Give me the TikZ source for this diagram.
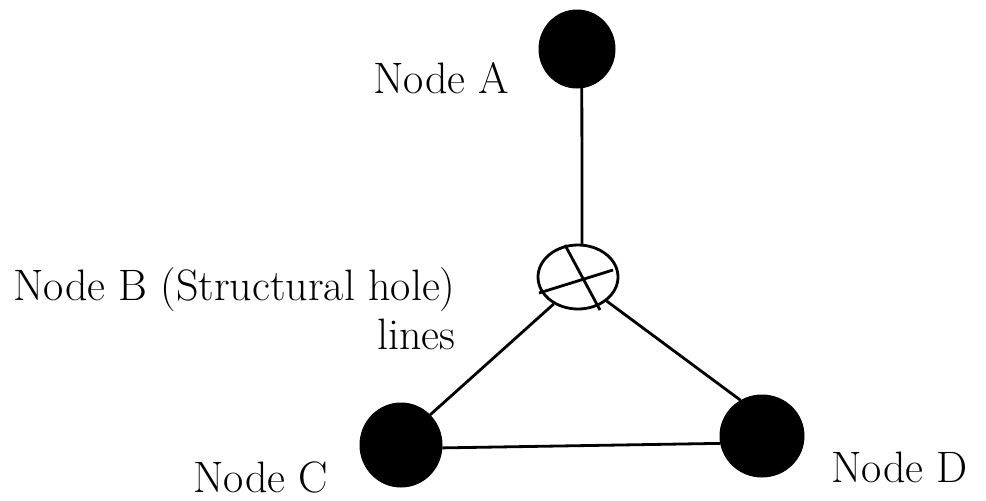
\documentclass[tikz,border=0pt]{standalone}
\usetikzlibrary{shapes.geometric,calc}
\begin{document}
\begin{tikzpicture}[x=1pt,y=-1pt,
  solid node/.style={ellipse,fill=black,draw=black,line width=1pt,inner sep=0pt},
  hole node/.style={ellipse,draw=black,line width=2.8pt,fill=white,inner sep=0pt},
  link/.style={line width=2.8pt},
  label text/.style={anchor=base west,inner sep=0pt,font=\fontsize{44}{50}\selectfont}]
  \useasboundingbox (0,0) rectangle (986,501);
  % actors
  \node[solid node,minimum width=76pt,minimum height=78pt] (A) at (577,49) {};
  \node[hole node,minimum width=80pt,minimum height=64pt] (B) at (578,277) {};
  \node[solid node,minimum width=82pt,minimum height=84pt] (C) at (401,445) {};
  \node[solid node,minimum width=84pt,minimum height=82pt] (D) at (762,436) {};
  % cross inside the structural hole
  \coordinate (x1) at ($(B)+(-13,-32)$);
  \coordinate (x2) at ($(B)+(22,33)$);
  \coordinate (x3) at ($(B)+(-39,16)$);
  \coordinate (x4) at ($(B)+(35,-7)$);
  \draw[link] (x1) -- (x2);
  \draw[link] (x3) -- (x4);
  % ties
  \draw[link] (A.-83) -- (B.83);
  \draw[link] (B.-132) -- (C.46);
  \draw[link] (B.-40) -- (D.121);
  \draw[link] (C.-4) -- (D.190);
  % labels
  \node[label text] (la) at (373,93) {Node A};
  \node[label text] (lb) at (13,300) {Node B (Structural hole)};
  \node[label text] (ll) at (377,349) {lines};
  \node[label text] (lc) at (193,492) {Node C};
  \node[label text] (ld) at (831,482) {Node D};
\end{tikzpicture}
\end{document}
